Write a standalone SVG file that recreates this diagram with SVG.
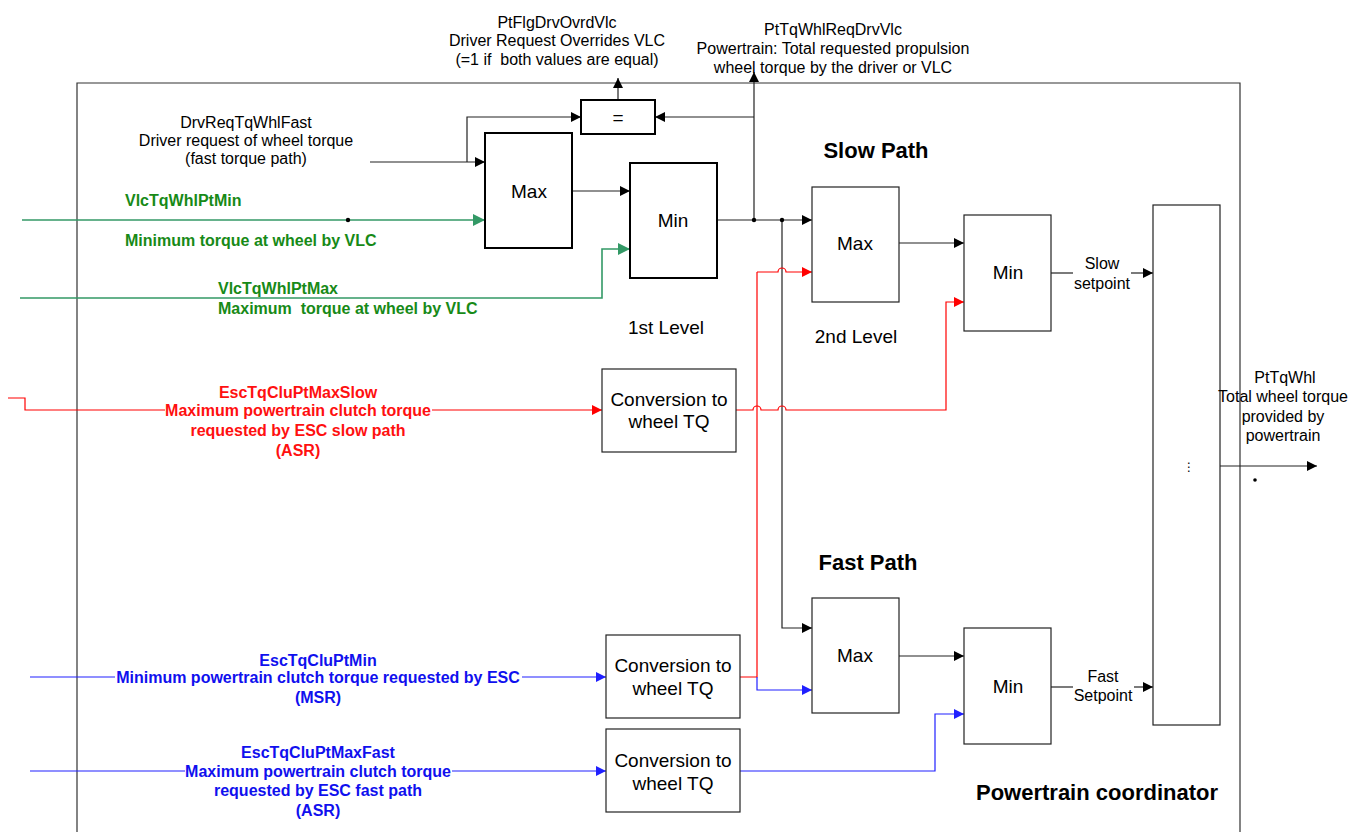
<svg xmlns="http://www.w3.org/2000/svg" width="1349" height="832" viewBox="0 0 1349 832">
<style>
text{font-family:"Liberation Sans",Arial,sans-serif;fill:#000}
.t14{font-size:16px}
.t17{font-size:19px}
.c{text-anchor:middle}
.b{font-weight:bold}
.h{font-size:22px;font-weight:bold}
.g{fill:#178a17}
.r{fill:#ff1010}
.bl{fill:#1010ee}
.box{fill:#fff;stroke:#222;stroke-width:1.2}
.boxb{fill:#fff;stroke:#000;stroke-width:2}
.k{fill:none;stroke:#222;stroke-width:1.2}
.kg{fill:none;stroke:#339966;stroke-width:1.6}
.kr{fill:none;stroke:#ff0000;stroke-width:1.2}
.kb{fill:none;stroke:#2020ff;stroke-width:1.2}
.ak{marker-end:url(#mk)}
.ag{marker-end:url(#mg)}
.ar{marker-end:url(#mr)}
.ab{marker-end:url(#mb)}
</style>
<defs>
<marker id="mk" viewBox="0 0 10 10" refX="10" refY="5" markerWidth="10" markerHeight="10" markerUnits="userSpaceOnUse" orient="auto"><path d="M0,0 L10,5 L0,10 z" fill="#000"/></marker>
<marker id="mg" viewBox="0 0 10 10" refX="10" refY="5" markerWidth="12" markerHeight="12" markerUnits="userSpaceOnUse" orient="auto"><path d="M0,0 L10,5 L0,10 z" fill="#339966"/></marker>
<marker id="mr" viewBox="0 0 10 10" refX="10" refY="5" markerWidth="10" markerHeight="10" markerUnits="userSpaceOnUse" orient="auto"><path d="M0,0 L10,5 L0,10 z" fill="#ff0000"/></marker>
<marker id="mb" viewBox="0 0 10 10" refX="10" refY="5" markerWidth="10" markerHeight="10" markerUnits="userSpaceOnUse" orient="auto"><path d="M0,0 L10,5 L0,10 z" fill="#2020ff"/></marker>
</defs>
<rect width="1349" height="832" fill="#fff"/>

<g id="frame">
<path d="M77,840 V83 H1240 V840" fill="none" stroke="#333" stroke-width="1.2"/>
<text class="h" x="1097" y="800" text-anchor="middle">Powertrain coordinator</text>
</g>

<g id="connectors">
<path class="k ak" d="M618,100 V78" stroke-width="2"/>
<path class="k ak" d="M754,220 V72" />
<path class="k ak" d="M754,117 H655"/>
<path class="k ak" d="M370,162 H485"/>
<path class="k ak" d="M467,162 V117 H581"/>
<path class="kg ag" d="M22,220 H485"/>
<path class="kg ag" d="M20,298 H602 V249 H630"/>
<path class="k ak" d="M572,191 H630"/>
<path class="k ak" d="M717,220 H812"/>
<path class="k ak" d="M782,220 V628 H812"/>
<path class="k ak" d="M899,243 H964"/>
<path class="kr" d="M8,398 H25 V410 H165"/>
<path class="kr ar" d="M432,410 H602"/>
<path class="kr ar" d="M757,272 H778 A4,4 0 0 1 786,272 H812"/>
<path class="kr ar" d="M736,410 H753 A4,4 0 0 1 761,410 H778 A4,4 0 0 1 786,410 H946 V302 H964"/>
<path class="kr" d="M740,677 H757 V272"/>
<path class="kb" d="M30,677 H115"/>
<path class="kb ab" d="M522,677 H606"/>
<path class="kb ab" d="M757,677 V690 H812"/>
<path class="kb" d="M30,771 H185"/>
<path class="kb ab" d="M452,771 H606"/>
<path class="kb ab" d="M740,771 H935 V714 H964"/>
<path class="k ak" d="M899,656 H964"/>
<path class="k" d="M1051,273 H1073"/>
<path class="k ak" d="M1131,273 H1153"/>
<path class="k" d="M1051,687 H1073"/>
<path class="k ak" d="M1134,687 H1153"/>
<path class="k ak" d="M1220,466 H1317"/>
<circle cx="348" cy="220" r="2.2" fill="#000"/>
<circle cx="754" cy="220" r="2.2" fill="#000"/>
<circle cx="782" cy="220" r="2.2" fill="#000"/>
<circle cx="1255" cy="480" r="1.8" fill="#000"/>
</g>

<g id="lbl-flag">
<text class="t14 c" x="557" y="28">PtFlgDrvOvrdVlc</text>
<text class="t14 c" x="557" y="46">Driver Request Overrides VLC</text>
<text class="t14 c" x="557" y="65" style="white-space:pre">(=1 if  both values are equal)</text>
</g>
<g id="lbl-req">
<text class="t14 c" x="833" y="35">PtTqWhlReqDrvVlc</text>
<text class="t14 c" x="833" y="54">Powertrain: Total requested propulsion</text>
<text class="t14 c" x="833" y="73">wheel torque by the driver or VLC</text>
</g>
<g id="lbl-drv">
<text class="t14 c" x="246" y="128">DrvReqTqWhlFast</text>
<text class="t14 c" x="246" y="146">Driver request of wheel torque</text>
<text class="t14 c" x="246" y="164">(fast torque path)</text>
</g>
<g id="lbl-vlcmin">
<text class="t14 b g" x="125" y="206">VlcTqWhlPtMin</text>
<text class="t14 b g" x="125" y="246">Minimum torque at wheel by VLC</text>
</g>
<g id="lbl-vlcmax">
<text class="t14 b g" x="218" y="294">VlcTqWhlPtMax</text>
<text class="t14 b g" x="218" y="314" style="white-space:pre">Maximum  torque at wheel by VLC</text>
</g>
<g id="lbl-escslow">
<text class="t14 b r c" x="298" y="398">EscTqCluPtMaxSlow</text>
<text class="t14 b r c" x="298" y="416">Maximum powertrain clutch torque</text>
<text class="t14 b r c" x="298" y="436">requested by ESC slow path</text>
<text class="t14 b r c" x="298" y="456">(ASR)</text>
</g>
<g id="lbl-escmin">
<text class="t14 b bl c" x="318" y="666">EscTqCluPtMin</text>
<text class="t14 b bl c" x="318" y="683">Minimum powertrain clutch torque requested by ESC</text>
<text class="t14 b bl c" x="318" y="703">(MSR)</text>
</g>
<g id="lbl-escfast">
<text class="t14 b bl c" x="318" y="758">EscTqCluPtMaxFast</text>
<text class="t14 b bl c" x="318" y="777">Maximum powertrain clutch torque</text>
<text class="t14 b bl c" x="318" y="796">requested by ESC fast path</text>
<text class="t14 b bl c" x="318" y="816">(ASR)</text>
</g>

<g id="eq"><rect class="boxb" x="581" y="100" width="74" height="34"/><text class="t17 c" x="618" y="124">=</text></g>
<g id="max1"><rect class="boxb" x="485" y="133" width="87" height="115"/><text class="t17 c" x="529" y="198">Max</text></g>
<g id="min1"><rect class="boxb" x="630" y="163" width="87" height="115"/><text class="t17 c" x="673" y="227">Min</text></g>
<g id="max2"><rect class="box" x="812" y="187" width="87" height="115"/><text class="t17 c" x="855" y="250">Max</text></g>
<g id="min2"><rect class="box" x="964" y="215" width="87" height="116"/><text class="t17 c" x="1008" y="279">Min</text></g>
<g id="max3"><rect class="box" x="812" y="598" width="87" height="115"/><text class="t17 c" x="855" y="662">Max</text></g>
<g id="min3"><rect class="box" x="964" y="628" width="87" height="116"/><text class="t17 c" x="1008" y="693">Min</text></g>
<g id="conv1"><rect class="box" x="602" y="369" width="134" height="83"/><text class="t17 c" x="669" y="406">Conversion to</text><text class="t17 c" x="669" y="428">wheel TQ</text></g>
<g id="conv2"><rect class="box" x="606" y="635" width="134" height="83"/><text class="t17 c" x="673" y="672">Conversion to</text><text class="t17 c" x="673" y="695">wheel TQ</text></g>
<g id="conv3"><rect class="box" x="606" y="729" width="134" height="83"/><text class="t17 c" x="673" y="767">Conversion to</text><text class="t17 c" x="673" y="790">wheel TQ</text></g>
<g id="arb"><rect class="box" x="1153" y="205" width="67" height="520"/><text class="c" x="1189" y="471" style="font-family:'DejaVu Sans',sans-serif;font-size:12px">⋮</text></g>

<g id="titles">
<text class="h c" x="876" y="158">Slow Path</text>
<text class="h c" x="868" y="570">Fast Path</text>
<text class="t17 c" x="666" y="334">1st Level</text>
<text class="t17 c" x="856" y="343">2nd Level</text>
</g>
<g id="lbl-slowsp"><text class="t14 c" x="1102" y="269">Slow</text><text class="t14 c" x="1102" y="289">setpoint</text></g>
<g id="lbl-fastsp"><text class="t14 c" x="1103" y="682">Fast</text><text class="t14 c" x="1103" y="701">Setpoint</text></g>
<g id="lbl-out">
<text class="t14 c" x="1285" y="383">PtTqWhl</text>
<text class="t14 c" x="1283" y="402">Total wheel torque</text>
<text class="t14 c" x="1283" y="422">provided by</text>
<text class="t14 c" x="1283" y="441">powertrain</text>
</g>
</svg>
